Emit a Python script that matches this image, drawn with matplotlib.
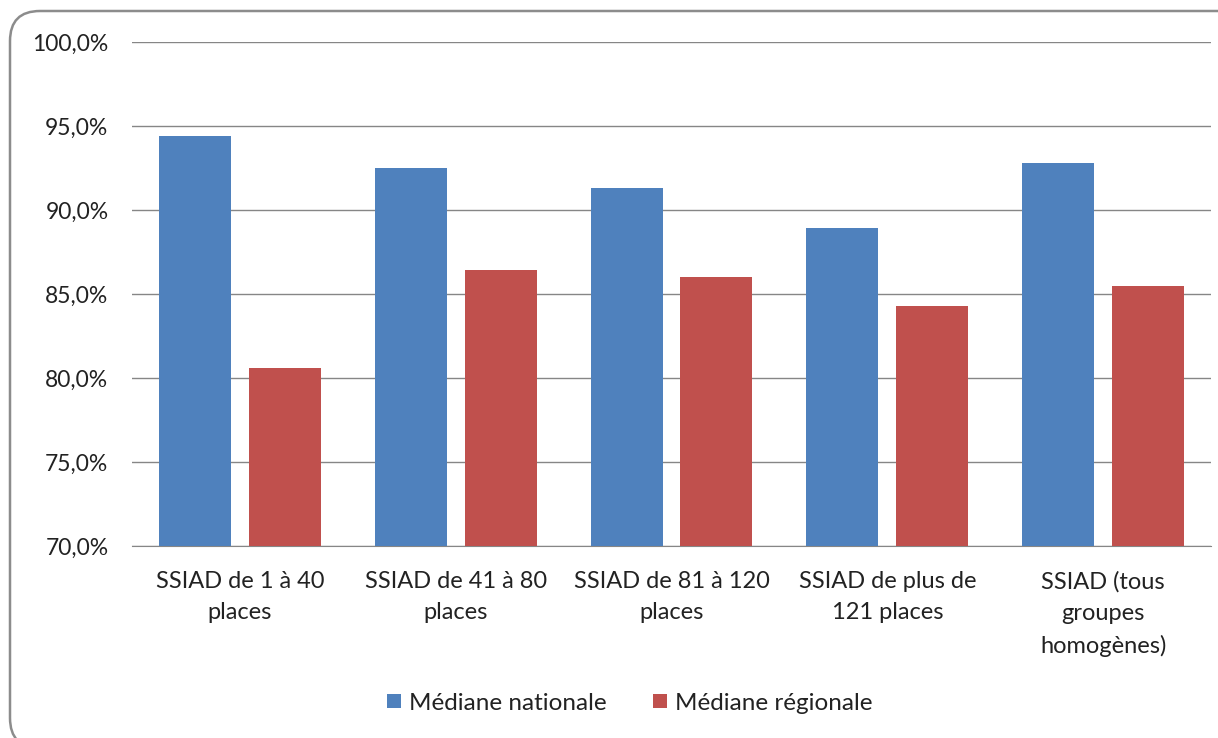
import matplotlib
matplotlib.use("Agg")
import matplotlib.pyplot as plt
from matplotlib.patches import FancyBboxPatch
from matplotlib.transforms import IdentityTransform
from matplotlib.ticker import FuncFormatter
import numpy as np

categories = ["SSIAD de 1 à 40\nplaces", "SSIAD de 41 à 80\nplaces", "SSIAD de 81 à 120\nplaces",
              "SSIAD de plus de\n121 places", "SSIAD (tous\ngroupes\nhomogènes)"]
nationale = [94.4, 92.5, 91.3, 88.9, 92.8]
regionale = [80.6, 86.4, 86.0, 84.3, 85.5]
series_names = ["Médiane nationale", "Médiane régionale"]
colors = ["#4F81BD", "#C0504D"]

plt.rcParams['font.family'] = ['Lato', 'DejaVu Sans']

W, H = 1218, 738
fig = plt.figure(figsize=(W/100, H/100), dpi=100)
ax = fig.add_axes([132/W, 1-546/H, (1211-132)/W, (546-42)/H])

x = np.arange(len(categories))
bw = 0.333
gap = 0.083
ax.bar(x - (bw+gap)/2, nationale, bw, color=colors[0], label=series_names[0], zorder=3)
ax.bar(x + (bw+gap)/2, regionale, bw, color=colors[1], label=series_names[1], zorder=3)

ax.set_ylim(70, 100)
ax.set_xlim(-0.5, len(categories)-0.5)
ax.set_yticks(np.arange(70, 100.1, 5))
ax.yaxis.set_major_formatter(FuncFormatter(lambda v, p: f"{v:.1f}%".replace(".", ",")))
ax.grid(axis='y', color='#868686', linewidth=1, zorder=0)
for s in ['top', 'right', 'left']:
    ax.spines[s].set_visible(False)
ax.spines['bottom'].set_color('#868686')
ax.tick_params(axis='both', length=0, colors='#222222')
ax.tick_params(axis='y', pad=17, labelsize=16.5)
ax.tick_params(axis='x', pad=18, labelsize=17)
ax.set_xticks(x)
ax.set_xticklabels(categories, linespacing=1.6, va='top')

leg = fig.legend(loc='center', bbox_to_anchor=(630/W, 1-703/H), ncol=2, frameon=False,
                 fontsize=17.5, handlelength=0.55, handleheight=0.55, handletextpad=0.35,
                 columnspacing=1.9)
for t in leg.get_texts():
    t.set_color('#222222')

box = FancyBboxPatch((10, -10), 1250, H - 11 + 10,
                     boxstyle="round,pad=0,rounding_size=30",
                     transform=IdentityTransform(), facecolor='none', edgecolor='#8c8c8c',
                     linewidth=1.8)
fig.patches.append(box)

fig.savefig("out.png", dpi=100)
